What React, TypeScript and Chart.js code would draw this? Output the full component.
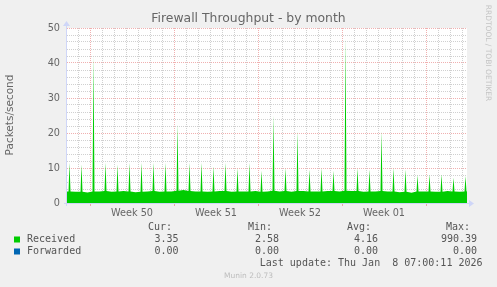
import React, { useEffect, useRef } from 'react';
import { Chart, registerables } from 'chart.js';

Chart.register(...registerables);

// ---- text ----
const TITLE = 'Firewall Throughput - by month';
const Y_TITLE = 'Packets/second';
const SIDE_TEXT = 'RRDTOOL / TOBI OETIKER';
const WATERMARK = 'Munin 2.0.73';
const LAST_UPDATE = 'Last update: Thu Jan  8 07:00:11 2026';

// ---- x axis (hours relative to Mon 8 Dec 2025 00:00) ----
const xMinHour = -46;
const xMaxHour = 754;
const weekStartHours = [0, 168, 336, 504, 672];
const weekLabels = ['Week 50', 'Week 51', 'Week 52', 'Week 01'];
const weekLabelHours = [84, 252, 420, 588];

// ---- y axis ----
const yMax = 50;
const yLabelValues = [0, 10, 20, 30, 40, 50];

// ---- series: Received (daily spike around 07:00, first at hour -41) ----
const firstSpikeHour = -41;
const spikeValues = [
  11.5, 11, 42, 11.5, 11, 11.5, 11.5, 11.5, 11.5, 22.5, 11.5, 11.5, 10.5, 11.5, 10, 11.5, 9.2,
  25, 10, 20.5, 9.6, 10, 9.2, 47, 10, 9.6, 20.5, 10, 9.6, 8, 8.2, 8.2, 7.2, 7.7,
];
const baseValues = [
  3.3, 3.2, 3.3, 3.4, 3.3, 3.3, 3.2, 3.4, 3.3, 3.5, 3.4, 3.3, 3.3, 3.4, 3.3, 3.3, 3.2,
  3.5, 3.4, 3.4, 3.3, 3.3, 3.4, 3.5, 3.4, 3.3, 3.4, 3.3, 3.2, 3.3, 3.3, 3.2, 3.3, 3.3,
];
const midDayValues = [
  3.2, 3.0, 3.3, 3.2, 3.4, 3.1, 3.3, 3.2, 3.3, 3.7, 3.3, 3.2, 3.4, 3.2, 3.3, 3.4, 3.3,
  3.3, 3.2, 3.4, 3.3, 3.4, 3.3, 3.4, 3.2, 3.3, 3.3, 3.1, 2.9, 3.3, 3.2, 3.4, 3.2, 3.3,
];
const receivedStart = 3.3;
const receivedEnd = 3.35;

// ---- legend ----
const seriesNames = ['Received', 'Forwarded'];
const seriesColors = ['#00CC00', '#0066B3'];
const curValues = ['3.35', '0.00'];
const minValues = ['2.58', '0.00'];
const avgValues = ['4.16', '0.00'];
const maxValues = ['990.39', '0.00'];
const legendHeaders = ['Cur:', 'Min:', 'Avg:', 'Max:'];

// ---- style ----
const FONT_COLOR = '#666666';
const LEGEND_COLOR = '#555555';
const AXIS_COLOR = '#CFD6F8';
const GRID_COLOR = 'rgba(143,143,143,0.42)';
const MGRID_COLOR = 'rgba(222,79,79,0.45)';
const SANS = '"DejaVu Sans", Verdana, sans-serif';
const MONO = '"DejaVu Sans Mono", monospace';

function buildReceived() {
  const pts: { x: number; y: number }[] = [{ x: xMinHour, y: receivedStart }];
  spikeValues.forEach((v, i) => {
    const h = firstSpikeHour + 24 * i;
    pts.push({ x: h - 2, y: baseValues[i] });
    pts.push({ x: h, y: v });
    pts.push({ x: h + 2, y: baseValues[i] });
    if (h + 12 < xMaxHour) pts.push({ x: h + 12, y: midDayValues[i] });
  });
  pts.push({ x: xMaxHour, y: receivedEnd });
  return pts;
}

const muninPlugin = {
  id: 'munin',
  beforeDraw(chart: any) {
    const { ctx, chartArea: a, width, height } = chart;
    ctx.save();
    ctx.fillStyle = '#F0F0F0';
    ctx.fillRect(0, 0, width, height);
    ctx.fillStyle = '#FFFFFF';
    ctx.fillRect(a.left, a.top, a.right - a.left, a.bottom - a.top);
    ctx.restore();
  },
  afterDatasetsDraw(chart: any) {
    const { ctx, chartArea: a } = chart;
    ctx.save();
    ctx.strokeStyle = AXIS_COLOR;
    ctx.lineWidth = 1;
    ctx.beginPath();
    ctx.moveTo(a.left - 0.5, a.bottom + 3);
    ctx.lineTo(a.left - 0.5, a.top - 4);
    ctx.moveTo(a.left - 3, a.bottom + 0.5);
    ctx.lineTo(a.right + 3, a.bottom + 0.5);
    ctx.stroke();
    ctx.fillStyle = AXIS_COLOR;
    ctx.beginPath();
    ctx.moveTo(a.left - 0.5, a.top - 7);
    ctx.lineTo(a.left + 3, a.top - 2);
    ctx.lineTo(a.left - 4, a.top - 2);
    ctx.closePath();
    ctx.fill();
    ctx.beginPath();
    ctx.moveTo(a.right + 7, a.bottom + 0.5);
    ctx.lineTo(a.right + 2, a.bottom - 3);
    ctx.lineTo(a.right + 2, a.bottom + 4);
    ctx.closePath();
    ctx.fill();
    ctx.restore();
  },
  afterDraw(chart: any) {
    const { ctx, width } = chart;
    ctx.save();
    // title
    ctx.fillStyle = FONT_COLOR;
    ctx.font = `12.4px ${SANS}`;
    ctx.textAlign = 'center';
    ctx.textBaseline = 'middle';
    ctx.fillText(TITLE, width / 2, 19);
    // y title
    ctx.save();
    ctx.translate(10.5, 115);
    ctx.rotate(-Math.PI / 2);
    ctx.font = `10.5px ${SANS}`;
    ctx.fillText(Y_TITLE, 0, 0);
    ctx.restore();
    // side text
    ctx.save();
    ctx.translate(487.5, 53);
    ctx.rotate(Math.PI / 2);
    ctx.font = `7.5px ${SANS}`;
    ctx.fillStyle = '#C4C4C4';
    ctx.fillText(SIDE_TEXT, 0, 0);
    ctx.restore();
    // legend
    ctx.font = `10px ${MONO}`;
    ctx.fillStyle = LEGEND_COLOR;
    ctx.textAlign = 'right';
    const headerX = [172, 272, 371, 470];
    const valueX = [178.5, 279, 378, 477];
    legendHeaders.forEach((h, i) => ctx.fillText(h, headerX[i], 227.5));
    const cols = [curValues, minValues, avgValues, maxValues];
    seriesNames.forEach((name, r) => {
      const y = 239.5 + r * 12;
      ctx.fillStyle = seriesColors[r];
      ctx.fillRect(14, y - 3, 6, 6);
      ctx.fillStyle = LEGEND_COLOR;
      ctx.textAlign = 'left';
      ctx.fillText(name, 27, y);
      ctx.textAlign = 'right';
      cols.forEach((c, i) => ctx.fillText(c[r], valueX[i], y));
    });
    ctx.fillText(LAST_UPDATE, 482.5, 263.5);
    // watermark
    ctx.textAlign = 'center';
    ctx.font = `7.5px ${SANS}`;
    ctx.fillStyle = '#BDBDBD';
    ctx.fillText(WATERMARK, width / 2, 276);
    ctx.restore();
  },
};

export default function App() {
  const canvasRef = useRef<HTMLCanvasElement | null>(null);

  useEffect(() => {
    document.body.style.margin = '0';
    const canvas = canvasRef.current;
    if (!canvas) return;

    const dayTicks: number[] = [];
    for (let h = -24; h <= xMaxHour; h += 24) dayTicks.push(h);
    const yTicks: number[] = [];
    for (let v = 0; v <= yMax; v += 2) yTicks.push(v);

    const isMajorX = (v: number) => weekStartHours.includes(v);
    const isLabelX = (v: number) => weekLabelHours.includes(v);

    const chart = new Chart(canvas, {
      type: 'line',
      data: {
        datasets: [
          {
            label: seriesNames[0],
            data: buildReceived(),
            backgroundColor: seriesColors[0],
            borderColor: 'rgba(0,0,0,0)',
            borderWidth: 0,
            pointRadius: 0,
            tension: 0,
            fill: 'origin',
          },
          {
            label: seriesNames[1],
            data: [
              { x: xMinHour, y: 0 },
              { x: xMaxHour, y: 0 },
            ],
            backgroundColor: seriesColors[1],
            borderColor: 'rgba(0,0,0,0)',
            borderWidth: 0,
            pointRadius: 0,
            fill: false,
          },
        ],
      },
      options: {
        animation: false,
        responsive: false,
        devicePixelRatio: 1,
        layout: { padding: { left: 0, right: 30, top: 28, bottom: 64 } },
        plugins: { legend: { display: false }, tooltip: { enabled: false }, title: { display: false } },
        scales: {
          x: {
            type: 'linear',
            min: xMinHour,
            max: xMaxHour,
            afterBuildTicks: (s: any) => {
              s.ticks = [...dayTicks, ...weekLabelHours]
                .sort((p, q) => p - q)
                .map((v) => ({ value: v }));
            },
            afterFit: (s: any) => {
              s.height = 20;
            },
            grid: {
              color: (c: any) =>
                isLabelX(c.tick.value) ? 'rgba(0,0,0,0)' : isMajorX(c.tick.value) ? MGRID_COLOR : GRID_COLOR,
              lineWidth: 1,
              drawTicks: true,
              tickLength: 3,
              tickColor: (c: any) => (isMajorX(c.tick.value) ? MGRID_COLOR : 'rgba(0,0,0,0)'),
            },
            border: { display: false, dash: [1, 1] },
            ticks: {
              autoSkip: false,
              maxRotation: 0,
              minRotation: 0,
              padding: 2,
              color: FONT_COLOR,
              font: { family: SANS, size: 9.7 },
              callback: (v: any) => {
                const i = weekLabelHours.indexOf(Number(v));
                return i >= 0 ? weekLabels[i] : '';
              },
            },
          },
          y: {
            type: 'linear',
            min: 0,
            max: yMax,
            afterBuildTicks: (s: any) => {
              s.ticks = yTicks.map((v) => ({ value: v }));
            },
            afterFit: (s: any) => {
              s.width = 67;
            },
            grid: {
              color: (c: any) => (c.tick.value % 10 === 0 ? MGRID_COLOR : GRID_COLOR),
              lineWidth: 1,
              drawTicks: false,
            },
            border: { display: false, dash: [1, 1] },
            ticks: {
              autoSkip: false,
              padding: 7,
              color: FONT_COLOR,
              font: { family: SANS, size: 9.7 },
              callback: (v: any) => (yLabelValues.includes(Number(v)) ? String(v) : ''),
            },
          },
        },
      },
      plugins: [muninPlugin],
    } as any);

    return () => chart.destroy();
  }, []);

  return (
    <div style={{ position: 'absolute', left: 0, top: 0, width: 497, height: 287 }}>
      <canvas ref={canvasRef} width={497} height={287} style={{ width: 497, height: 287, display: 'block' }} />
    </div>
  );
}
